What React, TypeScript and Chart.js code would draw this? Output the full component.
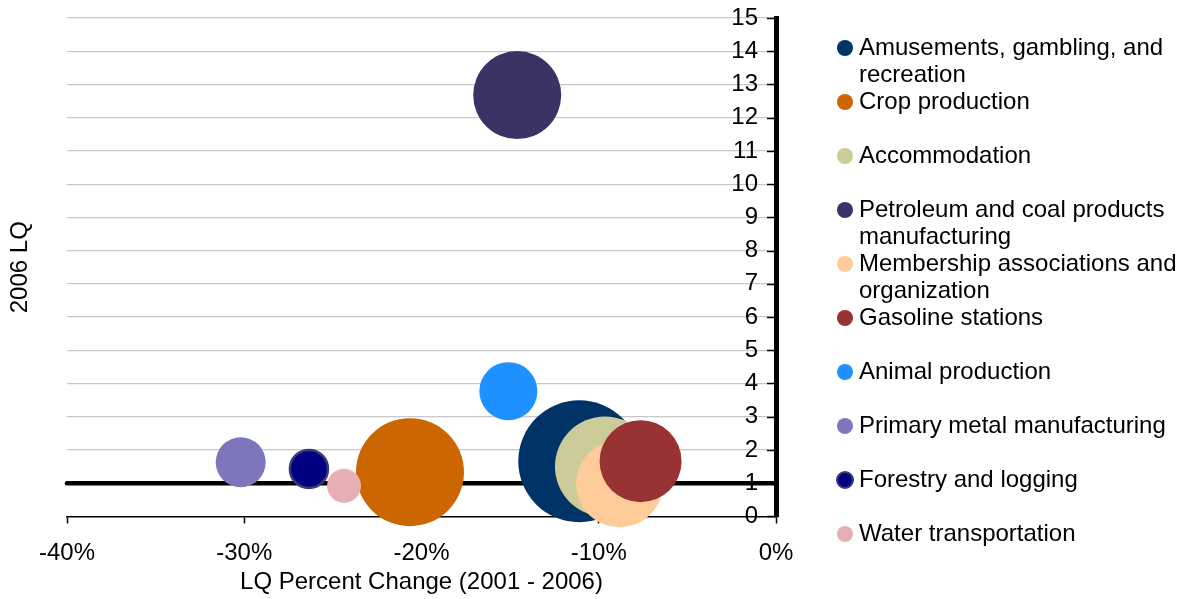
import React, { useEffect, useRef } from "react";
import { Chart, registerables } from "chart.js";

Chart.register(...registerables);

// ---- data ----
const industries: string[] = [
  "Amusements, gambling, and recreation",
  "Crop production",
  "Accommodation",
  "Petroleum and coal products manufacturing",
  "Membership associations and organization",
  "Gasoline stations",
  "Animal production",
  "Primary metal manufacturing",
  "Forestry and logging",
  "Water transportation",
];
// LQ percent change 2001-2006 (x, in %)
const lqPercentChange: number[] = [-11.1, -20.65, -9.65, -14.6, -8.83, -7.64, -15.1, -30.2, -26.35, -24.37];
// 2006 LQ (y)
const lq2006: number[] = [1.66, 1.33, 1.5, 12.68, 0.98, 1.66, 3.77, 1.63, 1.43, 0.92];
// bubble size (third dimension)
const bubbleSize: number[] = [61, 54, 50, 44, 43.5, 41, 29, 25, 19, 17];
const xTickValues: number[] = [-40, -30, -20, -10, 0];
const yTickValues: number[] = [0, 1, 2, 3, 4, 5, 6, 7, 8, 9, 10, 11, 12, 13, 14, 15];
const referenceLQ: number = 1;

// ---- styles ----
const fillColors: string[] = [
  "#003366",
  "#CC6600",
  "#CCCC99",
  "#393366",
  "#FFCC99",
  "#993333",
  "#1E90FF",
  "#7E76BC",
  "#000080",
  "#E6AFB4",
];
const edgeColors: string[] = [
  "#003366",
  "#CC6600",
  "#CCCC99",
  "#393366",
  "#FFCC99",
  "#993333",
  "#1E90FF",
  "#7E76BC",
  "#3A3A78",
  "#E6AFB4",
];
const edgeWidths: number[] = [0, 0, 0, 0, 0, 0, 0, 0, 2.5, 0];

const FONT = "'Liberation Sans', Arial, sans-serif";
const W = 1188;
const H = 599;

const inwardTicksPlugin = {
  id: "inwardTicks",
  afterDraw(chart: any) {
    const ctx = chart.ctx;
    const y = chart.scales.y;
    const right = chart.chartArea.right;
    ctx.save();
    ctx.strokeStyle = "#000";
    ctx.lineWidth = 1.5;
    yTickValues.forEach((v) => {
      const py = Math.round(y.getPixelForValue(v)) + 0.5;
      ctx.beginPath();
      ctx.moveTo(right - 9, py);
      ctx.lineTo(right, py);
      ctx.stroke();
    });
    ctx.restore();
  },
};

const sideLegendPlugin = {
  id: "sideLegend",
  afterDraw(chart: any) {
    const ctx = chart.ctx;
    const right = chart.chartArea.right;
    const markerX = right + 69;
    const textX = right + 83;
    const maxW = W - textX - 2;
    const top = 48;
    const step = 54;
    const lineH = 27;
    ctx.save();
    ctx.font = `24px ${FONT}`;
    ctx.textBaseline = "middle";
    ctx.textAlign = "left";
    industries.forEach((name, i) => {
      const cy = top + step * i;
      ctx.beginPath();
      ctx.arc(markerX, cy, 8, 0, Math.PI * 2);
      ctx.fillStyle = fillColors[i];
      ctx.fill();
      if (edgeWidths[i] > 0) {
        ctx.lineWidth = 2;
        ctx.strokeStyle = edgeColors[i];
        ctx.stroke();
      }
      // word wrap
      const words = name.split(" ");
      const lines: string[] = [];
      let cur = "";
      words.forEach((w) => {
        const test = cur ? cur + " " + w : w;
        if (ctx.measureText(test).width > maxW && cur) {
          lines.push(cur);
          cur = w;
        } else {
          cur = test;
        }
      });
      if (cur) lines.push(cur);
      ctx.fillStyle = "#000";
      lines.forEach((ln, k) => ctx.fillText(ln, textX, cy + k * lineH));
    });
    ctx.restore();
  },
};

export default function App() {
  const canvasRef = useRef<HTMLCanvasElement | null>(null);

  useEffect(() => {
    document.body.style.margin = "0";
    const canvas = canvasRef.current;
    if (!canvas) return;

    const bubbleSets: any[] = industries.map((name, i) => ({
      type: "bubble",
      label: name,
      data: [{ x: lqPercentChange[i], y: lq2006[i], r: bubbleSize[i] }],
      backgroundColor: fillColors[i],
      borderColor: edgeColors[i],
      borderWidth: edgeWidths[i],
      hoverRadius: 0,
      clip: false,
      order: -i,
      xAxisID: "x",
      yAxisID: "y",
    }));

    const refLine: any = {
      type: "line",
      label: "LQ = 1",
      data: [
        { x: xTickValues[0], y: referenceLQ },
        { x: xTickValues[xTickValues.length - 1], y: referenceLQ },
      ],
      borderColor: "#000",
      borderWidth: 4.5,
      borderCapStyle: "round",
      pointRadius: 0,
      fill: false,
      clip: false,
      order: 100,
      xAxisID: "x",
      yAxisID: "y",
    };

    const chart = new Chart(canvas, {
      type: "bubble",
      data: { datasets: [...bubbleSets, refLine] },
      options: {
        animation: false,
        responsive: false,
        events: [],
        layout: { autoPadding: false, padding: { left: 0, right: W - 776, top: 18, bottom: 0 } },
        plugins: {
          legend: { display: false },
          tooltip: { enabled: false },
        },
        scales: {
          x: {
            type: "linear",
            position: "bottom",
            min: xTickValues[0],
            max: xTickValues[xTickValues.length - 1],
            afterBuildTicks: (scale: any) => {
              scale.ticks = xTickValues.map((v) => ({ value: v }));
            },
            ticks: {
              color: "#000",
              font: { family: FONT, size: 24 },
              padding: 16,
              maxRotation: 0,
              callback: (v: any) => `${v}%`,
            },
            grid: {
              drawOnChartArea: false,
              drawTicks: true,
              tickLength: 7,
              tickColor: "#000",
              tickWidth: 1.5,
            },
            border: { display: true, color: "#000", width: 1.5 },
            title: {
              display: true,
              text: "LQ Percent Change (2001 - 2006)",
              color: "#000",
              font: { family: FONT, size: 24 },
              padding: { top: -16, bottom: 2 },
            },
          },
          y: {
            type: "linear",
            position: "right",
            min: yTickValues[0],
            max: yTickValues[yTickValues.length - 1],
            afterBuildTicks: (scale: any) => {
              scale.ticks = yTickValues.map((v) => ({ value: v }));
            },
            ticks: {
              mirror: true,
              padding: -18,
              color: "#000",
              font: { family: FONT, size: 24 },
              autoSkip: false,
            },
            grid: {
              drawTicks: false,
              lineWidth: 1.2,
              color: (c: any) => (c.tick && c.tick.value === 0 ? "rgba(0,0,0,0)" : "#C8C8C8"),
            },
            border: { display: true, color: "#000", width: 5 },
          },
          yTitle: {
            type: "linear",
            position: "left",
            min: 0,
            max: 15,
            display: true,
            ticks: { display: false },
            grid: { display: false, drawTicks: false },
            border: { display: false },
            title: {
              display: true,
              text: "2006 LQ",
              color: "#000",
              font: { family: FONT, size: 24 },
              padding: { top: 5.6, bottom: 32.6 },
            },
          },
        },
      } as any,
      plugins: [inwardTicksPlugin, sideLegendPlugin],
    });

    return () => chart.destroy();
  }, []);

  return (
    <div style={{ width: W, height: H, position: "relative" }}>
      <canvas ref={canvasRef} width={W} height={H} style={{ display: "block" }} />
    </div>
  );
}
